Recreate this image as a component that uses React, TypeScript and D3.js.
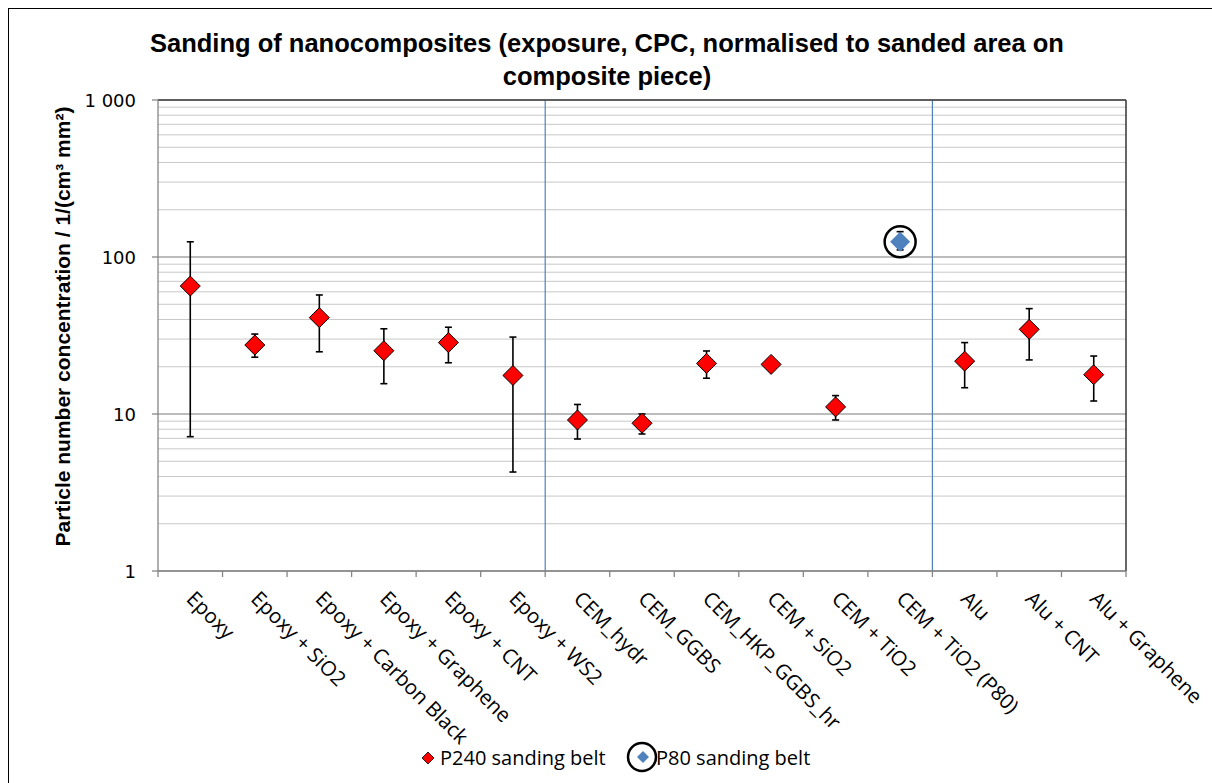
import React from 'react';
import * as d3 from 'd3';

const categories = [
  'Epoxy', 'Epoxy + SiO2', 'Epoxy + Carbon Black', 'Epoxy + Graphene', 'Epoxy + CNT', 'Epoxy + WS2',
  'CEM_hydr', 'CEM_GGBS', 'CEM_HKP_GGBS_hr', 'CEM + SiO2', 'CEM + TiO2', 'CEM + TiO2 (P80)',
  'Alu', 'Alu + CNT', 'Alu + Graphene',
];

// P240 sanding belt (null = no point)
const p240Values = [65.3, 27.5, 41.1, 25.3, 28.5, 17.6, 9.16, 8.73, 21.0, 20.7, 11.1, null, 21.7, 34.6, 17.8];
const p240Upper = [125, 32.3, 57.3, 34.9, 35.7, 30.9, 11.5, 10.0, 25.2, 21.4, 13.1, null, 28.5, 46.9, 23.4];
const p240Lower = [7.17, 23.0, 24.9, 15.6, 21.2, 4.27, 6.93, 7.46, 16.9, 20.0, 9.16, null, 14.7, 22.1, 12.1];

// P80 sanding belt
const p80Values = [null, null, null, null, null, null, null, null, null, null, null, 125, null, null, null];
const p80Upper = [null, null, null, null, null, null, null, null, null, null, null, 145, null, null, null];
const p80Lower = [null, null, null, null, null, null, null, null, null, null, null, 111, null, null, null];

const yTicks = [1, 10, 100, 1000];
const yTickLabels = ['1', '10', '100', '1 000'];
// category boundaries where the blue separators sit
const groupBreaks = ['CEM_hydr', 'Alu'];

const W = 1212;
const H = 783;
const margin = { top: 100, right: 86, bottom: 212, left: 158 };

const App = () => {
  const x = d3
    .scaleBand<string>()
    .domain(categories)
    .range([margin.left, W - margin.right]);

  const y = d3
    .scaleLog()
    .domain([1, 1000])
    .range([H - margin.bottom, margin.top]);

  const left = margin.left;
  const right = W - margin.right;
  const top = margin.top;
  const bottom = H - margin.bottom;
  const cx = (c: string) => (x(c) as number) + x.bandwidth() / 2;

  const minor: number[] = [];
  [1, 10, 100].forEach(d => {
    for (let k = 2; k <= 9; k++) minor.push(d * k);
  });

  const diamond = (px: number, py: number, r: number) =>
    `M${px},${py - r}L${px + r},${py}L${px},${py + r}L${px - r},${py}Z`;

  const errorBar = (c: string, lo: number, hi: number, key: string) => (
    <g key={key} stroke="#000" strokeWidth={1.6}>
      <line x1={cx(c)} x2={cx(c)} y1={y(hi)} y2={y(lo)} />
      <line x1={cx(c) - 3.5} x2={cx(c) + 3.5} y1={y(hi)} y2={y(hi)} />
      <line x1={cx(c) - 3.5} x2={cx(c) + 3.5} y1={y(lo)} y2={y(lo)} />
    </g>
  );

  const labelFont = '"Open Sans", "Liberation Sans", sans-serif';

  return (
    <svg
      width={W}
      height={H}
      style={{ position: 'absolute', left: 0, top: 0, background: '#fff' }}
    >
      <rect x={8.5} y={8.5} width={W + 10} height={H + 10} fill="#fff" stroke="#000" strokeWidth={1} />

      {/* title */}
      <text
        x={607}
        textAnchor="middle"
        fontFamily='"Liberation Sans", Arial, sans-serif'
        fontWeight="bold"
        fontSize={25.5}
        fill="#000"
      >
        <tspan x={607} y={52}>Sanding of nanocomposites (exposure, CPC, normalised to sanded area on</tspan>
        <tspan x={607} y={85}>composite piece)</tspan>
      </text>

      {/* grid */}
      {minor.map(v => (
        <line key={'m' + v} x1={left} x2={right} y1={y(v)} y2={y(v)} stroke="#C8C8C8" strokeWidth={1} />
      ))}
      {yTicks.map(v => (
        <line key={'g' + v} x1={left} x2={right} y1={y(v)} y2={y(v)} stroke="#A6A6A6" strokeWidth={1.3} />
      ))}

      {/* group separators */}
      {groupBreaks.map(c => (
        <line key={'s' + c} x1={x(c)} x2={x(c)} y1={top} y2={bottom} stroke="#4F81BD" strokeWidth={1.2} />
      ))}

      {/* plot frame */}
      <line x1={left} x2={right} y1={top} y2={top} stroke="#404040" strokeWidth={1.6} />
      <line x1={right} x2={right} y1={top} y2={bottom} stroke="#404040" strokeWidth={1.6} />
      <line x1={left} x2={left} y1={top} y2={bottom} stroke="#868686" strokeWidth={1.3} />
      <line x1={left} x2={right} y1={bottom} y2={bottom} stroke="#868686" strokeWidth={1.3} />

      {/* y ticks */}
      {yTicks.map((v, i) => (
        <g key={'yt' + v}>
          <line x1={left - 6} x2={left} y1={y(v)} y2={y(v)} stroke="#868686" strokeWidth={1.3} />
          <text
            x={136}
            y={y(v) + 6.5}
            textAnchor="end"
            fontFamily='"DejaVu Sans", Verdana, sans-serif'
            fontSize={18}
            fill="#000"
          >
            {yTickLabels[i]}
          </text>
        </g>
      ))}

      {/* x ticks */}
      {categories.map(c => (
        <line key={'xt' + c} x1={x(c)} x2={x(c)} y1={bottom} y2={bottom + 6} stroke="#868686" strokeWidth={1.3} />
      ))}
      <line x1={right} x2={right} y1={bottom} y2={bottom + 6} stroke="#868686" strokeWidth={1.3} />

      {/* x labels */}
      {categories.map(c => (
        <text
          key={'xl' + c}
          transform={`translate(${cx(c) - 5},${bottom + 29}) rotate(45)`}
          fontFamily={labelFont}
          fontSize={20.5}
          fill="#000"
        >
          {c}
        </text>
      ))}

      {/* y title */}
      <text
        transform={`translate(70,${(top + bottom) / 2 - 9}) rotate(-90)`}
        textAnchor="middle"
        fontFamily='"Liberation Sans", Arial, sans-serif'
        fontWeight="bold"
        fontSize={21}
        fill="#000"
      >
        Particle number concentration / 1/(cm³ mm²)
      </text>

      {/* P240 series */}
      {categories.map((c, i) =>
        p240Values[i] == null ? null : errorBar(c, p240Lower[i] as number, p240Upper[i] as number, 'e' + i)
      )}
      {categories.map((c, i) =>
        p240Values[i] == null ? null : (
          <path key={'p' + i} d={diamond(cx(c), y(p240Values[i] as number), 10)} fill="#FF0000" stroke="#000" strokeWidth={1} />
        )
      )}

      {/* P80 series */}
      {categories.map((c, i) =>
        p80Values[i] == null ? null : (
          <g key={'b' + i}>
            {errorBar(c, p80Lower[i] as number, p80Upper[i] as number, 'be' + i)}
            <path d={diamond(cx(c), y(p80Values[i] as number), 10)} fill="#4F81BD" />
            <circle cx={cx(c)} cy={y(p80Values[i] as number)} r={15.5} fill="none" stroke="#000" strokeWidth={2.5} />
          </g>
        )
      )}

      {/* legend */}
      <g fontFamily={labelFont} fontSize={20} fill="#000">
        <path d={diamond(428, 758, 6)} fill="#FF0000" stroke="#000" strokeWidth={0.8} />
        <text x={440} y={765}>P240 sanding belt</text>
        <circle cx={642} cy={757} r={14} fill="none" stroke="#000" strokeWidth={2.5} />
        <path d={diamond(643, 757, 6)} fill="#4F81BD" />
        <text x={656} y={765}>P80 sanding belt</text>
      </g>
    </svg>
  );
};

export default App;
